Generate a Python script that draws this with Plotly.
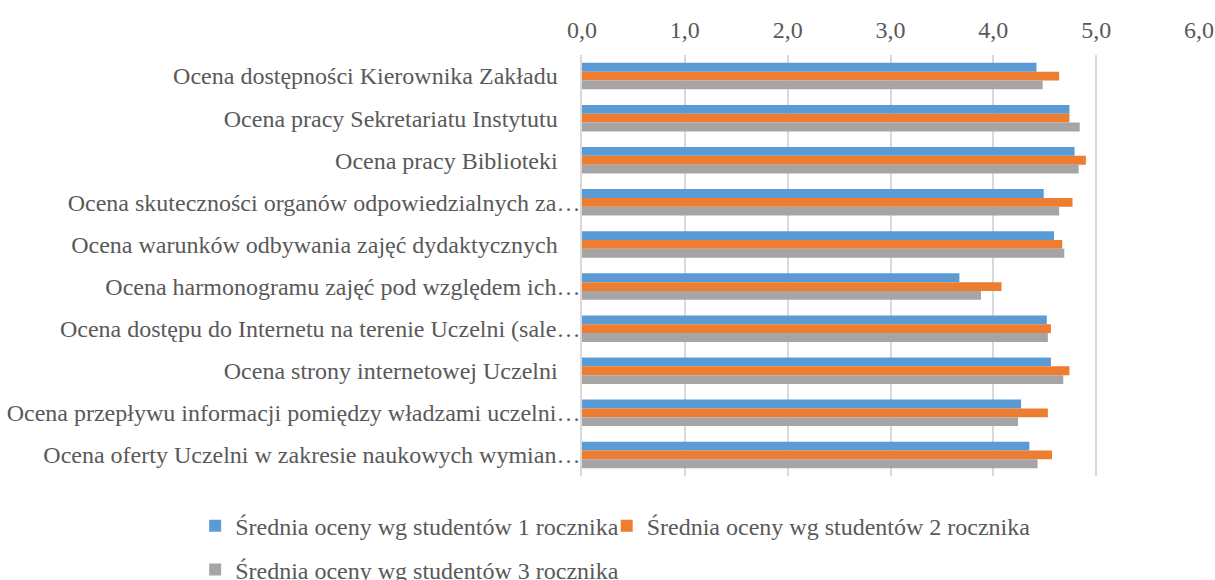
import plotly.graph_objects as go

NB = "\u00a0" * 3 + "\u2009"
categories = [
    "Ocena dostępności Kierownika Zakładu" + NB,
    "Ocena pracy Sekretariatu Instytutu" + NB,
    "Ocena pracy Biblioteki" + NB,
    "Ocena skuteczności organów odpowiedzialnych za…",
    "Ocena warunków odbywania zajęć dydaktycznych" + NB,
    "Ocena harmonogramu zajęć pod względem ich…",
    "Ocena dostępu do Internetu na terenie Uczelni (sale…",
    "Ocena strony internetowej Uczelni" + NB,
    "Ocena przepływu informacji pomiędzy władzami uczelni…",
    "Ocena oferty Uczelni w zakresie naukowych wymian…",
]
series_names = [
    "Średnia oceny wg studentów 1 rocznika",
    "Średnia oceny wg studentów 2 rocznika",
    "Średnia oceny wg studentów 3 rocznika",
]
rok1 = [4.42, 4.74, 4.79, 4.49, 4.59, 3.67, 4.52, 4.56, 4.27, 4.35]
rok2 = [4.64, 4.74, 4.90, 4.77, 4.67, 4.08, 4.56, 4.74, 4.53, 4.57]
rok3 = [4.48, 4.84, 4.83, 4.64, 4.69, 3.88, 4.53, 4.68, 4.24, 4.43]
colors = ["#5B9BD5", "#ED7D31", "#A5A5A5"]
tick_vals = [0, 1, 2, 3, 4, 5, 6]

FONT = "Liberation Serif"
FS = 24
legend_ids = ["legend2", "legend3", "legend4"]
fig = go.Figure()
for i, (name, vals) in enumerate(zip(series_names, [rok1, rok2, rok3])):
    fig.add_trace(go.Bar(
        y=categories, x=vals, name=name, orientation="h",
        marker=dict(color=colors[i], line=dict(width=0)),
        legend=legend_ids[i],
    ))

legend_common = dict(orientation="h", xanchor="left", yanchor="middle",
                     font=dict(family=FONT, size=FS, color="#595959"),
                     bgcolor="rgba(0,0,0,0)", itemclick=False)
fig.update_layout(
    width=1215, height=580,
    margin=dict(l=582, r=16, t=55, b=104, autoexpand=False),
    paper_bgcolor="white", plot_bgcolor="white",
    barmode="group", bargap=0.37, bargroupgap=0,
    separators=", ",
    font=dict(family=FONT, size=FS, color="#595959"),
    legend2=dict(x=-0.627, y=-0.119, **legend_common),
    legend3=dict(x=0.040, y=-0.119, **legend_common),
    legend4=dict(x=-0.627, y=-0.223, **legend_common),
    xaxis=dict(range=[0, 6], side="top", tickvals=tick_vals, tickformat=".1f",
               showgrid=True, gridcolor="#d9d9d9", gridwidth=1.5,
               zeroline=False, showline=False, ticks="", ticklabelstandoff=11,
               tickfont=dict(family=FONT, size=FS, color="#595959")),
    yaxis=dict(autorange="reversed", showgrid=False, showline=True,
               linecolor="#d9d9d9", linewidth=1.5, ticks="", ticklabelstandoff=-5,
               tickfont=dict(family=FONT, size=FS, color="#595959")),
)
fig.write_html("out.html", config={"displayModeBar": False},
               post_script="document.body.style.margin='0';")
